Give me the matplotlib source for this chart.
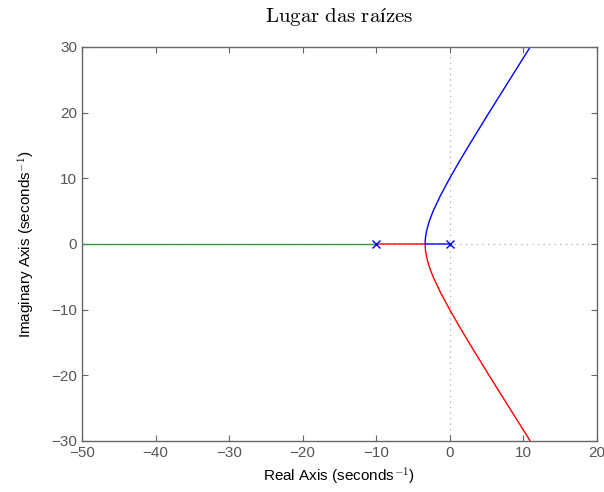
import matplotlib.pyplot as plt

plt.rcParams['mathtext.fontset'] = 'cm'
plt.rcParams['font.family'] = ['Liberation Sans', 'DejaVu Sans']

# poles of the open loop system (shown as x markers)
poles_re = [0, -10]
poles_im = [0, 0]

# branch starting at s = 0 (goes left to the breakaway point, then up)
blue_re = [0, -1, -2, -3.0, -3.333, -3.32, -3.29, -3.14, -2.77, -2.26, -1.2, 0, 1.28, 2.61, 5.35, 8.15, 10.95, 12.0]
blue_im = [0, 0, 0, 0, 0, 0.5, 1, 2, 3.5, 5, 7.5, 10, 12.5, 15, 20, 25, 30, 31.8]

# branch starting at s = -10 (goes right to the breakaway point, then down)
red_re = [-10, -8, -6, -4, -3.333, -3.32, -3.29, -3.14, -2.77, -2.26, -1.2, 0, 1.28, 2.61, 5.35, 8.15, 10.95, 12.0]
red_im = [0, 0, 0, 0, 0, -0.5, -1, -2, -3.5, -5, -7.5, -10, -12.5, -15, -20, -25, -30, -31.8]

# branch starting at the other pole at s = -10 (goes to -inf)
green_re = [-10, -30, -50, -60]
green_im = [0, 0, 0, 0]

fig = plt.figure(figsize=(6.04, 4.92), dpi=100)
ax = fig.add_axes([0.1358, 0.1037, 0.8522, 0.8008])

# dotted zero lines
ax.axhline(0, color='#999999', linestyle=(0, (1, 4)), linewidth=0.8, zorder=1)
ax.axvline(0, color='#999999', linestyle=(0, (1, 4)), linewidth=0.8, zorder=1)

ax.plot(green_re, green_im, color='#3a9a3a', linewidth=1.0, zorder=2)
ax.plot(red_re, red_im, color='red', linewidth=1.0, zorder=2)
ax.plot(blue_re, blue_im, color='blue', linewidth=1.0, zorder=2)
ax.plot(poles_re, poles_im, 'x', color='blue', markersize=6, markeredgewidth=1.0, zorder=3)

ax.set_xlim(-50, 20)
ax.set_ylim(-30, 30)
ax.set_xticks([-50, -40, -30, -20, -10, 0, 10, 20])
ax.set_yticks([-30, -20, -10, 0, 10, 20, 30])

for s in ax.spines.values():
    s.set_color('#666666')
    s.set_linewidth(1.0)
ax.tick_params(direction='in', length=4, width=0.8, color='#666666',
               labelcolor='#555555', labelsize=11, top=True, right=True)

ax.set_xlabel('Real Axis (seconds$^{-1}$)', fontsize=11, color='black')
ax.set_ylabel('Imaginary Axis (seconds$^{-1}$)', fontsize=11, color='black', labelpad=10)
ax.set_title('$\\mathrm{Lugar\\ das\\ ra\u00edzes}$', fontsize=15, pad=18)

fig.savefig('out.png', dpi=100)
